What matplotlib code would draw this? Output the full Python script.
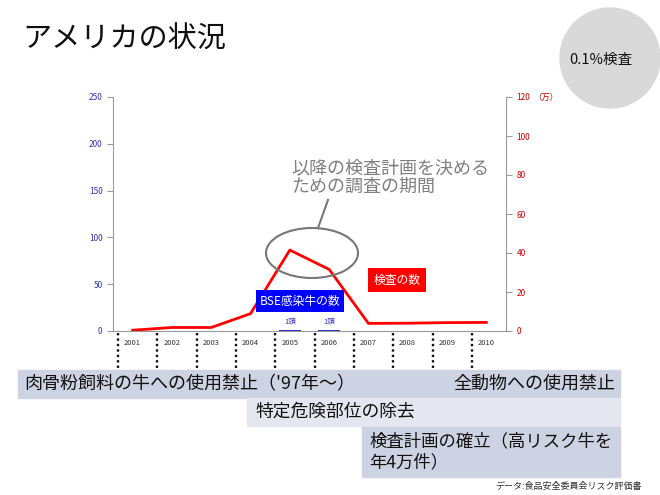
import matplotlib
matplotlib.use("Agg")
import matplotlib.pyplot as plt
from matplotlib.patches import Rectangle, Ellipse
import matplotlib.transforms as mtransforms
import numpy as np

JP = ['Noto Sans CJK JP', 'DejaVu Sans']
plt.rcParams['font.family'] = JP

years = ['2001', '2002', '2003', '2004', '2005', '2006', '2007', '2008', '2009', '2010']
inspections = [0.4, 1.8, 1.8, 8.9, 41.5, 31.6, 3.9, 4.0, 4.3, 4.4]   # 万件 (right axis)
bse_cases = [0, 0, 0, 0, 1, 1, 0, 0, 0, 0]                          # 頭 (left axis)
bse_labels = ['', '', '', '', '1頭', '1頭', '', '', '', '']
left_ticks = [0, 50, 100, 150, 200, 250]
right_ticks = [0, 20, 40, 60, 80, 100, 120]

W, H = 660, 495
fig = plt.figure(figsize=(W / 100, H / 100), dpi=100)
fig.patch.set_facecolor('white')

def fx(x):
    return x / W

def fy(y):
    return 1 - y / H

# main axes
ax_l, ax_t, ax_r, ax_b = 113, 97, 506, 331
ax = fig.add_axes([fx(ax_l), fy(ax_b), (ax_r - ax_l) / W, (ax_b - ax_t) / H])
ax2 = ax.twinx()

x = np.arange(len(years)) + 0.5
ax.bar(x, bse_cases, width=0.55, color='#3333CC', zorder=3)
for xi, v, lab in zip(x, bse_cases, bse_labels):
    if lab:
        ax.annotate(lab, (xi, v), xytext=(0, 3), textcoords='offset points',
                    ha='center', va='bottom', fontsize=5.5, color='#3333CC')

ax2.plot(x, inspections, color='#FF0000', lw=2, zorder=4)

ax.set_xlim(0, len(years))
ax.set_ylim(0, 250)
ax2.set_ylim(0, 120)
ax.set_yticks(left_ticks)
ax2.set_yticks(right_ticks)
ax.set_xticks(x)
ax.set_xticklabels(years)

for a in (ax, ax2):
    a.spines['top'].set_visible(False)
    a.set_facecolor('none')
ax.spines['right'].set_visible(False)
ax2.spines['left'].set_visible(False)
for s in ('left', 'bottom'):
    ax.spines[s].set_color('#999999')
ax2.spines['right'].set_color('#999999')
ax2.spines['bottom'].set_visible(False)

ax.tick_params(axis='y', colors='#999999', labelcolor='#3333AA', labelsize=6, length=4, width=0.8)
ax2.tick_params(axis='y', colors='#999999', labelcolor='#CC0000', labelsize=6, length=4, width=0.8)
ax.tick_params(axis='x', length=0, labelsize=5.5, labelcolor='#333333', pad=6)

# unit label on right axis
ax2.text(1.07, 1.0, '（万）', transform=ax2.transAxes, fontsize=6, color='#CC0000',
         ha='left', va='center')

# dotted separators
trans = mtransforms.blended_transform_factory(ax.transData, ax.transAxes)
for i in range(len(years)):
    bottom = -0.286 if years[i] == '2009' else -0.167
    ax.plot([i + 0.13, i + 0.13], [-0.008, bottom], transform=trans, clip_on=False,
            color='#111111', lw=1.7, ls=(0, (1, 1.3)), zorder=6)

# bands
band_dark = '#CDD3E2'
band_light = '#E4E7F0'
fig.patches.append(Rectangle((fx(18), fy(398)), (620 - 18) / W, 28 / H,
                             transform=fig.transFigure, color=band_dark, zorder=0))
fig.patches.append(Rectangle((fx(247), fy(426)), (620 - 247) / W, 28 / H,
                             transform=fig.transFigure, color=band_light, zorder=0))
fig.patches.append(Rectangle((fx(362), fy(477)), (620 - 362) / W, 50 / H,
                             transform=fig.transFigure, color=band_dark, zorder=0))

fig.text(fx(24), fy(384), "肉骨粉飼料の牛への使用禁止（'97年～）", fontsize=13,
         ha='left', va='center', color='#111111')
fig.text(fx(615), fy(384), '全動物への使用禁止', fontsize=13,
         ha='right', va='center', color='#111111')
fig.text(fx(255), fy(412), '特定危険部位の除去', fontsize=12.8,
         ha='left', va='center', color='#111111')
fig.text(fx(369), fy(452), '検査計画の確立（高リスク牛を\n年4万件）', fontsize=12.5,
         ha='left', va='center', color='#111111', linespacing=1.25)

# title
fig.text(fx(22), fy(40), 'アメリカの状況', fontsize=21, ha='left', va='center', color='#111111')

# circle top-right
circ = Ellipse((fx(610), fy(58)), 100 / W, 100 / H, transform=fig.transFigure,
               color='#D9D9D9', zorder=0)
fig.patches.append(circ)
fig.text(fx(601), fy(60), '0.1%検査', fontsize=10.5, ha='center', va='center', color='#111111')

# legend-like labels
fig.text(fx(300), fy(301), 'BSE感染牛の数', fontsize=8.5, ha='center', va='center', color='white',
         bbox=dict(boxstyle='square,pad=0.35', fc='#0000FF', ec='none'))
fig.text(fx(397), fy(280), '検査の数', fontsize=8.5, ha='center', va='center', color='white',
         bbox=dict(boxstyle='square,pad=0.45', fc='#FF0000', ec='none'))

# ellipse callout
ell = Ellipse((fx(312), fy(253)), 92 / W, 50 / H, transform=fig.transFigure,
              fill=False, ec='#777777', lw=1.5, zorder=10)
fig.patches.append(ell)
fig.add_artist(plt.Line2D([fx(318), fx(328)], [fy(228), fy(200)], transform=fig.transFigure,
                          color='#777777', lw=1.5))
fig.text(fx(291), fy(178), '以降の検査計画を決める\nための調査の期間', fontsize=13,
         ha='left', va='center', color='#808080', linespacing=1.05)

# source
fig.text(fx(642), fy(486), 'データ:食品安全委員会リスク評価書', fontsize=6.5,
         ha='right', va='center', color='#333333')

fig.savefig('out.png', dpi=100)
